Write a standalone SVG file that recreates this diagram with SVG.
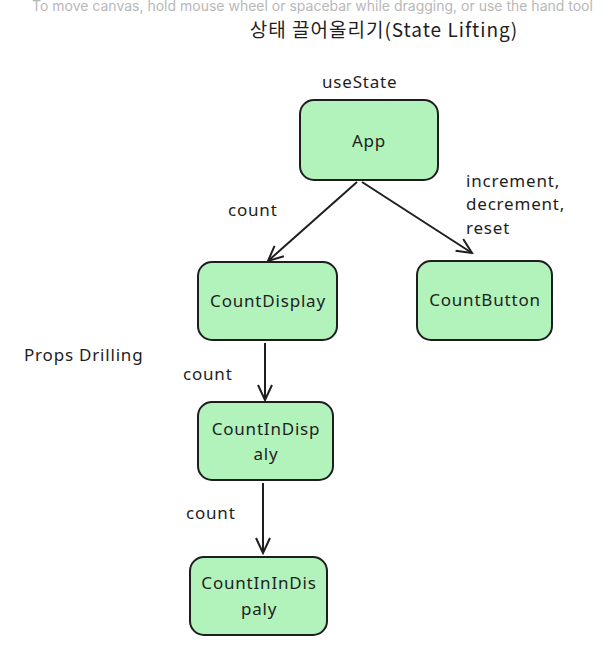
<svg xmlns="http://www.w3.org/2000/svg" width="609" height="655" viewBox="0 0 609 655">
<style>
.bg{fill:#ffffff}
.node rect{fill:#b2f2bb;stroke:#1e1e1e;stroke-width:2}
.t{font-family:"Noto Sans","Liberation Sans",sans-serif;font-size:17px;letter-spacing:0.8px;fill:#1e1e1e}
.c{text-anchor:middle}
.edge{stroke:#1e1e1e;stroke-width:2;fill:none;marker-end:url(#arr)}
.hint{font-family:Inter,"Noto Sans",sans-serif;font-size:14px;fill:#b8b8b8}
</style>
<defs>
<marker id="arr" viewBox="0 0 20 20" refX="18" refY="10" markerWidth="20" markerHeight="20" orient="auto" markerUnits="userSpaceOnUse">
<path d="M3,3 L18,10 L3,17" fill="none" stroke="#1e1e1e" stroke-width="2"/>
</marker>
</defs>
<rect class="bg" x="0" y="0" width="609" height="655"/>
<text class="hint" x="32" y="11">To move canvas, hold mouse wheel or spacebar while dragging, or use the hand tool</text>
<text class="t c" x="384" y="37" style="font-size:19px;letter-spacing:1px;font-family:'Noto Sans CJK KR','Noto Sans',sans-serif">상태 끌어올리기(State Lifting)</text>
<text class="t" x="322" y="88">useState</text>
<text class="t" x="24" y="361">Props Drilling</text>
<g id="connectors">
<line class="edge" x1="357" y1="182" x2="268" y2="261"/>
<line class="edge" x1="362" y1="182" x2="472" y2="253"/>
<line class="edge" x1="265" y1="343" x2="265" y2="400"/>
<line class="edge" x1="263" y1="483" x2="263" y2="553"/>
<text class="t" x="228" y="216">count</text>
<text class="t" x="466" y="187">increment,</text>
<text class="t" x="466" y="210">decrement,</text>
<text class="t" x="466" y="234">reset</text>
<text class="t" x="183" y="380">count</text>
<text class="t" x="186" y="519">count</text>
</g>
<g id="app" class="node"><rect x="300" y="100" width="138" height="80" rx="14"/><text class="t c" x="369" y="147">App</text></g>
<g id="countDisplay" class="node"><rect x="198" y="262" width="139" height="78" rx="14"/><text class="t c" x="268" y="307">CountDisplay</text></g>
<g id="countButton" class="node"><rect x="417" y="261" width="135" height="79" rx="14"/><text class="t c" x="485" y="306">CountButton</text></g>
<g id="countInDisplay" class="node"><rect x="198" y="402" width="135" height="78" rx="14"/><text class="t c" x="266" y="435">CountInDisp</text><text class="t c" x="266" y="460">aly</text></g>
<g id="countInInDisplay" class="node"><rect x="190" y="557" width="137" height="78" rx="14"/><text class="t c" x="259" y="589">CountInInDis</text><text class="t c" x="259" y="615">paly</text></g>
</svg>
